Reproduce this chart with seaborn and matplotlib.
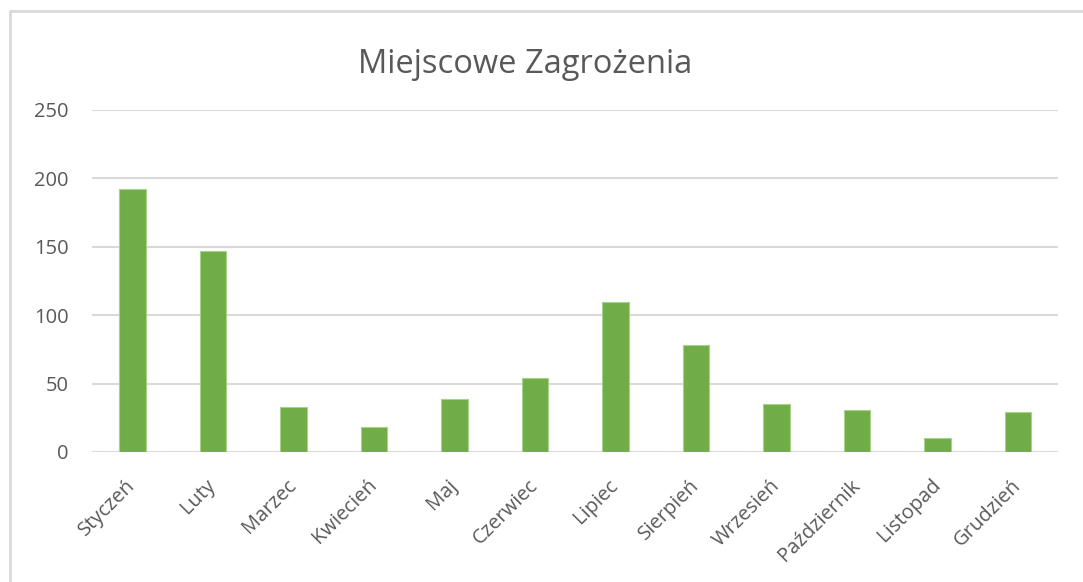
import numpy as np
import pandas as pd
import matplotlib
matplotlib.use("Agg")
import matplotlib.pyplot as plt
import matplotlib.transforms as mtransforms
import seaborn as sns
from matplotlib.lines import Line2D

# --------------------------
# DATA
# --------------------------
months = ["Styczeń", "Luty", "Marzec", "Kwiecień", "Maj", "Czerwiec",
          "Lipiec", "Sierpień", "Wrzesień", "Październik", "Listopad", "Grudzień"]
counts = [192, 147, 33, 18, 39, 54, 110, 78, 35, 31, 10, 29]
y_ticks = [0, 50, 100, 150, 200, 250]

df = pd.DataFrame({"month": months, "count": counts})

# --------------------------
# STYLE
# --------------------------
sns.set_style("white")
plt.rcParams["font.family"] = ["Open Sans", "DejaVu Sans"]
text_col = "#595959"
grid_col = "#D9D9D9"
bar_col = "#70AD47"

fig = plt.figure(figsize=(10.83, 5.82), dpi=100)
ax = fig.add_axes([0.085, 0.2234, 0.892, 0.5876])

sns.barplot(data=df, x="month", y="count", color=bar_col, width=0.33,
            edgecolor="#A9D18E", linewidth=0.8, saturation=1, ax=ax)

ax.set_ylim(0, 250)
ax.set_yticks(y_ticks)
ax.yaxis.grid(True, color=grid_col, linewidth=1.5)
ax.set_axisbelow(True)
for s in ax.spines.values():
    s.set_visible(False)

ax.set_xlabel("")
ax.set_ylabel("")
ax.tick_params(axis="y", length=0, pad=17, labelsize=14.5, labelcolor=text_col)
ax.tick_params(axis="x", length=0, pad=6, labelsize=14.5, labelcolor=text_col)
shift = mtransforms.ScaledTranslation(-7 / 100, -15 / 100, fig.dpi_scale_trans)
for lbl in ax.get_xticklabels():
    lbl.set_rotation(45)
    lbl.set_ha("right")
    lbl.set_rotation_mode("anchor")
    lbl.set_transform(lbl.get_transform() + shift)

fig.text(0.4845, 0.8896, "Miejscowe Zagrożenia", ha="center", va="center",
         fontsize=23.5, color=text_col)

# chart frame (left and top edge visible)
fig.add_artist(Line2D([10 / 1083, 10 / 1083], [0, 1 - 11 / 582],
                      transform=fig.transFigure, color=grid_col, linewidth=2))
fig.add_artist(Line2D([10 / 1083, 1.0], [1 - 11 / 582, 1 - 11 / 582],
                      transform=fig.transFigure, color=grid_col, linewidth=2))

fig.savefig("out.png", dpi=100)
